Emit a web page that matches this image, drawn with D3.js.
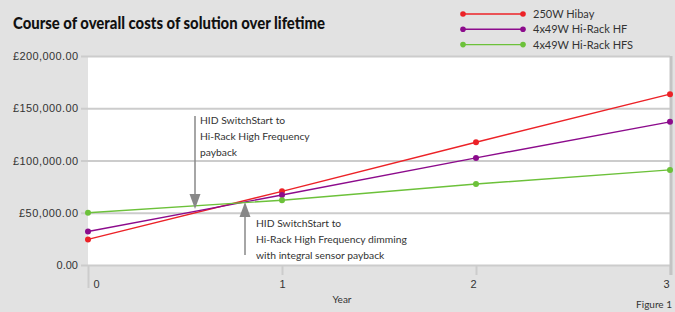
<!DOCTYPE html>
<html>
<head>
<meta charset="utf-8">
<script src="https://cdn.jsdelivr.net/npm/d3@7"></script>
<style>
  body { margin: 0; background: #e2e2e2; }
  svg { display: block; font-family: Lato, "Open Sans", sans-serif; }
</style>
</head>
<body>
<svg id="chart"></svg>
<script>
// chart data
var years = [0, 1, 2, 3];
var hibay = [24500, 70500, 117500, 163500];
var hiRackHF = [32000, 67000, 102500, 137000];
var hiRackHFS = [50000, 62000, 77500, 91000];
var yTicks = [0, 50000, 100000, 150000, 200000];
var seriesNames = ["250W Hibay", "4x49W Hi-Rack HF", "4x49W Hi-Rack HFS"];
var seriesColors = ["#ec2227", "#8c0b8c", "#6cc13a"];

var width = 675, height = 312;
var svg = d3.select("#chart").attr("width", width).attr("height", height);

svg.append("rect").attr("width", width).attr("height", height).attr("fill", "#e2e2e2");

var x = d3.scaleLinear().domain([0, 3]).range([88, 670]);
var y = d3.scaleLinear().domain([0, 200000]).range([265, 56]);

// plot background
svg.append("rect")
   .attr("x", x(0)).attr("y", y(200000))
   .attr("width", x(3) - x(0)).attr("height", y(0) - y(200000))
   .attr("fill", "#ffffff");

var grid = "#cccccc";

// horizontal gridlines + y labels
var fmt = d3.format(",.2f");
var yAxis = d3.axisLeft(y)
   .tickValues(yTicks)
   .tickSize(-(x(3) - x(0)))
   .tickPadding(10)
   .tickFormat(function(d) { return d === 0 ? "0.00" : "£" + fmt(d); });

var gy = svg.append("g")
   .attr("transform", "translate(" + x(0) + ",0)")
   .call(yAxis);
gy.select(".domain").remove();
gy.selectAll(".tick line").attr("stroke", grid).attr("stroke-width", 2).attr("x1", -7);
gy.selectAll(".tick text").attr("fill", "#333").style("font-size", "11px")
   .attr("textLength", function(d) { return d === 0 ? null : (d >= 100000 ? 65 : 59); });

// vertical gridlines + x labels
var xAxis = d3.axisBottom(x)
   .tickValues(years)
   .tickSize(-(y(0) - y(200000)))
   .tickPadding(0)
   .tickFormat(d3.format("d"));

var gx = svg.append("g")
   .attr("transform", "translate(0," + y(0) + ")")
   .call(xAxis);
gx.select(".domain").remove();
gx.selectAll(".tick line").attr("stroke", grid).attr("stroke-width", 2)
   .attr("y2", function(d) { return d === 0 ? 23 : 10; });
gx.selectAll(".tick text")
   .attr("fill", "#333").style("font-size", "11px")
   .attr("y", 15)
   .attr("dx", function(d) { return d === 0 ? 8 : (d === 3 ? -4 : (d === 2 ? -3 : 0)); });

// right border
svg.append("line")
   .attr("x1", x(3) + 1).attr("x2", x(3) + 1)
   .attr("y1", y(200000)).attr("y2", y(0) + 10)
   .attr("stroke", "#c4c4c4").attr("stroke-width", 3);

// series
var allSeries = [hibay, hiRackHF, hiRackHFS];
var line = d3.line().x(function(d, i) { return x(years[i]); }).y(function(d) { return y(d); });

allSeries.forEach(function(vals, s) {
  svg.append("path")
     .datum(vals)
     .attr("d", line)
     .attr("fill", "none")
     .attr("stroke", seriesColors[s])
     .attr("stroke-width", 1.4);
  svg.selectAll(".dot" + s)
     .data(vals)
     .enter().append("circle")
     .attr("cx", function(d, i) { return x(years[i]); })
     .attr("cy", function(d) { return y(d); })
     .attr("r", 3)
     .attr("fill", seriesColors[s]);
});

// annotations
var arrowCol = "#888888";
function arrow(ax, yFrom, yTip, up) {
  svg.append("line")
     .attr("x1", ax).attr("x2", ax)
     .attr("y1", yFrom).attr("y2", up ? yTip + 12 : yTip - 12)
     .attr("stroke", arrowCol).attr("stroke-width", 1.5);
  var dir = up ? 1 : -1;
  svg.append("path")
     .attr("d", "M" + ax + "," + yTip + " L" + (ax - 5.5) + "," + (yTip + dir * 15) +
                " L" + (ax + 5.5) + "," + (yTip + dir * 15) + " Z")
     .attr("fill", arrowCol);
}
arrow(195, 116, 209, false);
arrow(245, 255, 202, true);

function note(tx, ty, lines) {
  var t = svg.append("text").attr("x", tx).attr("y", ty)
     .attr("fill", "#333").style("font-size", "10.3px");
  lines.forEach(function(l, i) {
    t.append("tspan").attr("x", tx).attr("dy", i === 0 ? 0 : 16).text(l);
  });
}
note(200, 124, ["HID SwitchStart to", "Hi-Rack High Frequency", "payback"]);
note(256, 227, ["HID SwitchStart to", "Hi-Rack High Frequency dimming", "with integral sensor payback"]);

// title
svg.append("text")
   .attr("x", 13).attr("y", 29)
   .attr("textLength", 312).attr("lengthAdjust", "spacingAndGlyphs")
   .style("font-size", "17.5px").style("font-weight", "900")
   .attr("fill", "#111")
   .text("Course of overall costs of solution over lifetime");

// legend
var legend = svg.append("g");
seriesNames.forEach(function(name, i) {
  var ly = 14 + i * 15.3;
  legend.append("line").attr("x1", 463).attr("x2", 523).attr("y1", ly).attr("y2", ly)
     .attr("stroke", seriesColors[i]).attr("stroke-width", 1.4);
  [463, 523].forEach(function(cx) {
    legend.append("circle").attr("cx", cx).attr("cy", ly).attr("r", 2.8).attr("fill", seriesColors[i]);
  });
  legend.append("text").attr("x", 533).attr("y", ly + 4)
     .attr("fill", "#333").style("font-size", "11px").text(name);
});

// axis title + figure label
svg.append("text").attr("x", 342).attr("y", 303).attr("text-anchor", "middle")
   .attr("fill", "#333").style("font-size", "10px").text("Year");
svg.append("text").attr("x", 672).attr("y", 308).attr("text-anchor", "end")
   .attr("fill", "#333").style("font-size", "10px").text("Figure 1");
</script>
</body>
</html>
